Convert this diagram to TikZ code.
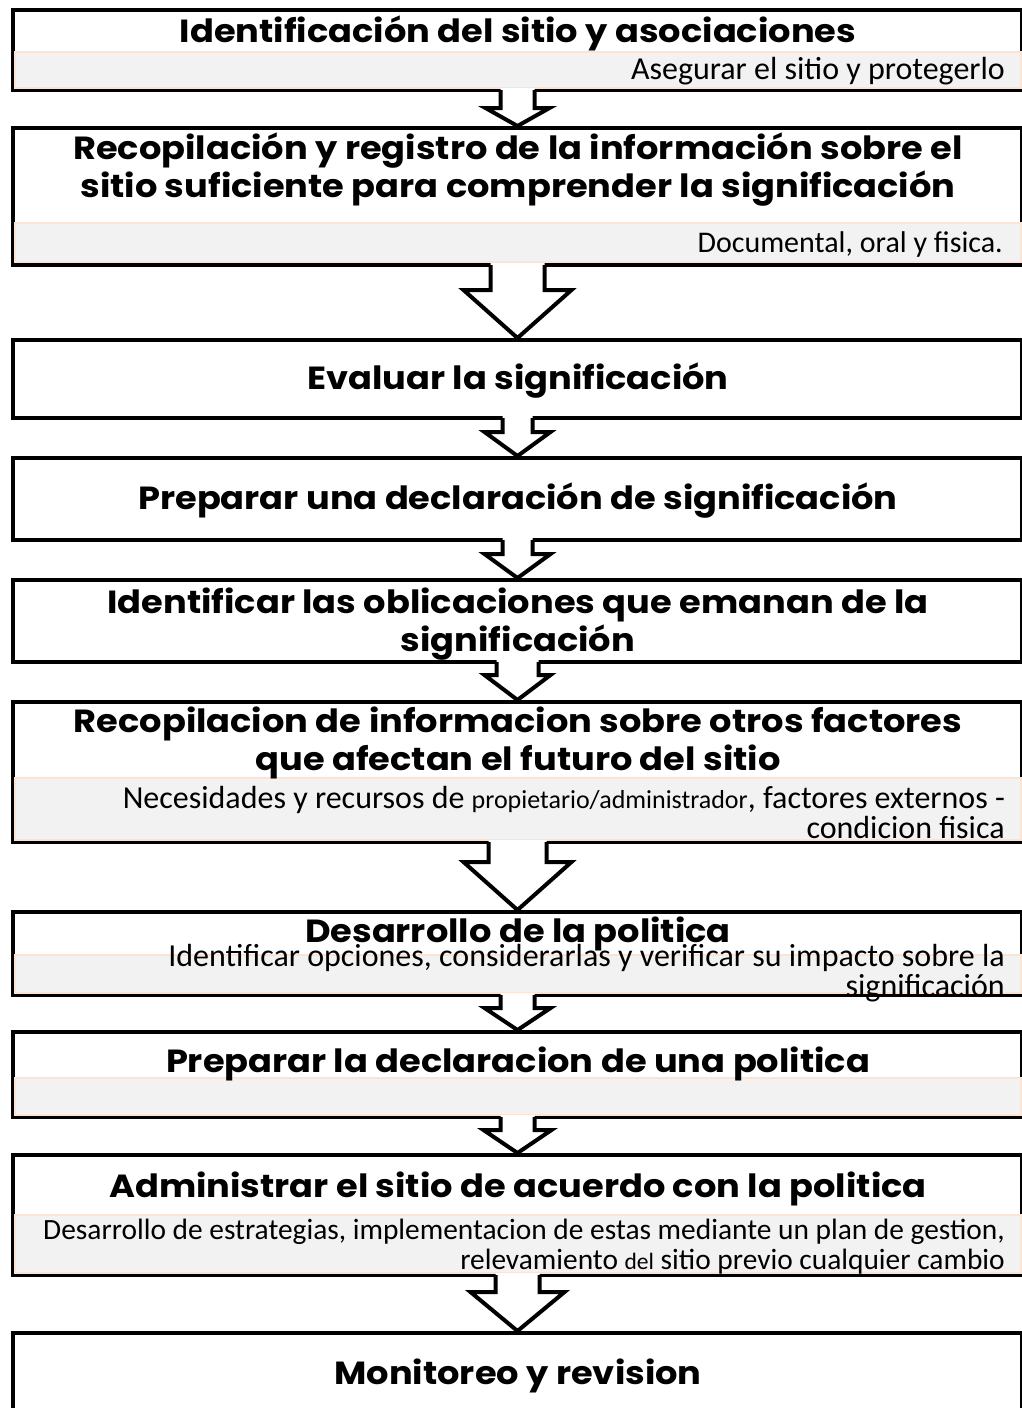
\documentclass[tikz,border=0pt]{standalone}
\usepackage{fontspec}
\newfontfamily\gotica{Poppins}[FakeStretch=1.1]
\newfontfamily\calibri{Carlito}
\usetikzlibrary{positioning}

\definecolor{grisbarra}{HTML}{F2F2F2}
\definecolor{salmon}{HTML}{FBE3D6}

\tikzset{
  caja/.style={draw=black, line width=4pt, fill=white, minimum width=1009pt, inner sep=0pt},
  barra/.style={fill=grisbarra, draw=salmon, line width=1.2pt},
  titulo/.style={font=\gotica\bfseries\fontsize{32}{38}\selectfont, align=center, inner sep=0pt},
  nota/.style={font=\calibri\fontsize{32}{30}\selectfont, align=right, anchor=east, inner sep=0pt},
  contorno/.style={draw=black, line width=4pt, line join=miter},
}

% flecha gruesa de caja a caja: de, a, cuerpo/2, punta/2, largo del cuerpo
\newcommand{\flecha}[5]{%
  \fill[white] ([xshift=-#3pt,yshift=4pt]#1.south) -- ([xshift=-#3pt,yshift=-#5pt]#1.south)
    -- ([xshift=-#4pt,yshift=-#5pt]#1.south) -- (#2.north)
    -- ([xshift=#4pt,yshift=-#5pt]#1.south) -- ([xshift=#3pt,yshift=-#5pt]#1.south)
    -- ([xshift=#3pt,yshift=4pt]#1.south) -- cycle;
  \draw[contorno] ([xshift=-#3pt,yshift=2pt]#1.south) -- ([xshift=-#3pt,yshift=-#5pt]#1.south)
    -- ([xshift=-#4pt,yshift=-#5pt]#1.south) -- (#2.north)
    -- ([xshift=#4pt,yshift=-#5pt]#1.south) -- ([xshift=#3pt,yshift=-#5pt]#1.south)
    -- ([xshift=#3pt,yshift=2pt]#1.south);
}

\begin{document}
\begin{tikzpicture}[x=1pt, y=-1pt]
  \useasboundingbox (0,0) rectangle (1021,1408);

  % Cajas
  \node[caja, minimum height=80pt]  (b1)  at (517.5,50) {};
  \node[caja, minimum height=137pt] (b2)  at (517.5,196.5) {};
  \node[caja, minimum height=78pt]  (b3)  at (517.5,379) {};
  \node[caja, minimum height=82pt]  (b4)  at (517.5,499) {};
  \node[caja, minimum height=82pt]  (b5)  at (517.5,621) {};
  \node[caja, minimum height=140pt] (b6)  at (517.5,772) {};
  \node[caja, minimum height=83pt]  (b7)  at (517.5,953.5) {};
  \node[caja, minimum height=85pt]  (b8)  at (517.5,1074.5) {};
  \node[caja, minimum height=120pt] (b9)  at (517.5,1215) {};
  \node[caja, minimum height=127pt] (b10) at (517.5,1396.5) {};

  % Barras grises
  \path[barra] (15,52) rectangle (1021,88);
  \path[barra] (15,223) rectangle (1021,262);
  \path[barra] (15,778) rectangle (1021,840);
  \path[barra] (15,955) rectangle (1021,993);
  \path[barra] (15,1078) rectangle (1021,1115);
  \path[barra] (15,1215) rectangle (1021,1273);

  % Flechas
  \flecha{b1}{b2}{17}{32}{16}
  \flecha{b2}{b3}{27}{54}{23}
  \flecha{b3}{b4}{15}{33}{12}
  \flecha{b4}{b5}{15}{33}{12}
  \flecha{b5}{b6}{21}{33}{11}
  \flecha{b6}{b7}{29}{54}{18}
  \flecha{b7}{b8}{17}{33}{11}
  \flecha{b8}{b9}{17}{34}{11}
  \flecha{b9}{b10}{22}{47}{15}

  % Titulos
  \node[titulo] (t1)  at (518,33)   {Identificación del sitio y asociaciones};
  \node[titulo] (t2)  at (518,170)  {Recopilación y registro de la información sobre el\\ sitio suficiente para comprender la significación};
  \node[titulo] (t3)  at (518,381)  {Evaluar la significación};
  \node[titulo] (t4)  at (518,501)  {Preparar una declaración de significación};
  \node[titulo] (t5)  at (518,624)  {Identificar las oblicaciones que emanan de la\\ significación};
  \node[titulo] (t6)  at (518,743)  {Recopilacion de informacion sobre otros factores\\ que afectan el futuro del sitio};
  \node[titulo] (t7)  at (518,934)  {Desarrollo de la politica};
  \node[titulo] (t8)  at (518,1064) {Preparar la declaracion de una politica};
  \node[titulo] (t9)  at (518,1189) {Administrar el sitio de acuerdo con la politica};
  \node[titulo] (t10) at (518,1376) {Monitoreo y revision};

  % Notas
  \node[nota] (n1) at (1005,71)   {Asegurar el sitio y protegerlo};
  \node[nota, font=\calibri\fontsize{30}{30}\selectfont] (n2) at (1003,244) {Documental, oral y fisica.};
  \node[nota] (n6) at (1005,812)  {Necesidades y recursos de {\fontsize{26}{30}\selectfont propietario/administrador}, factores externos -\\ condicion fisica};
  \node[nota] (n7) at (1005,973)  {Identificar opciones, considerarlas y verificar su impacto sobre la\\ significación};
  \node[nota, font=\calibri\fontsize{29.4}{30}\selectfont] (n9) at (1005,1247) {Desarrollo de estrategias, implementacion de estas mediante un plan de gestion,\\ relevamiento {\fontsize{23.5}{30}\selectfont del} sitio previo cualquier cambio};
\end{tikzpicture}
\end{document}
